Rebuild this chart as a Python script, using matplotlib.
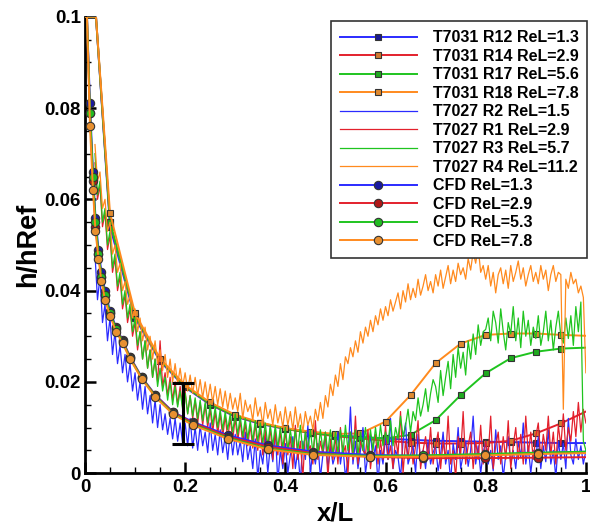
import numpy as np
import matplotlib
matplotlib.use("Agg")
import matplotlib.pyplot as plt

plt.rcParams['font.family'] = ['Liberation Sans', 'DejaVu Sans']
plt.rcParams['font.weight'] = 'bold'

# ---------------- data ----------------
# CFD curves
cfd_x = [0.004, 0.010, 0.016, 0.021, 0.027, 0.033, 0.040, 0.050, 0.062, 0.075, 0.090,
         0.113, 0.140, 0.176, 0.216, 0.286, 0.365, 0.456, 0.569, 0.675, 0.798, 0.904, 1.0]
cfd_re13 = [0.100, 0.081, 0.066, 0.056, 0.049, 0.044, 0.040, 0.0355, 0.032, 0.0292, 0.0255,
            0.0211, 0.0172, 0.0134, 0.0112, 0.0083, 0.0061, 0.0047, 0.0040, 0.0038, 0.0040, 0.0044, 0.0047]
cfd_re29 = [0.100, 0.079, 0.064, 0.054, 0.048, 0.043, 0.039, 0.0350, 0.0318, 0.0290, 0.0254,
            0.0210, 0.0171, 0.0133, 0.0110, 0.0080, 0.0058, 0.0044, 0.0036, 0.0033, 0.0033, 0.0034, 0.0035]
cfd_re53 = [0.100, 0.079, 0.065, 0.055, 0.048, 0.043, 0.039, 0.0350, 0.0316, 0.0288, 0.0252,
            0.0209, 0.0169, 0.0131, 0.0107, 0.0077, 0.0054, 0.0042, 0.0038, 0.0039, 0.0042, 0.0045, 0.0047]
cfd_re78 = [0.100, 0.076, 0.062, 0.053, 0.047, 0.042, 0.038, 0.0345, 0.0310, 0.0285, 0.0250,
            0.0207, 0.0167, 0.0129, 0.0105, 0.0075, 0.0052, 0.0040, 0.0036, 0.0036, 0.0039, 0.0042, 0.0044]

# T7031 runs (smooth, square markers)
t31_x = [0.0, 0.022, 0.05, 0.10, 0.15, 0.20, 0.25, 0.30, 0.35, 0.40, 0.45,
         0.50, 0.55, 0.60, 0.65, 0.70, 0.75, 0.80, 0.85, 0.90, 0.95, 1.00]
t31_r12 = [0.1, 0.1, 0.054, 0.0340, 0.0245, 0.0188, 0.0150, 0.0124, 0.0108, 0.0097, 0.0089,
           0.0083, 0.0079, 0.0076, 0.0073, 0.0071, 0.0070, 0.0069, 0.0068, 0.0067, 0.0066, 0.0066]
t31_r14 = [0.1, 0.1, 0.055, 0.0345, 0.0248, 0.0190, 0.0151, 0.0125, 0.0109, 0.0097, 0.0088,
           0.0081, 0.0076, 0.0071, 0.0067, 0.0065, 0.0065, 0.0066, 0.0071, 0.0087, 0.0109, 0.0135]
t31_r17 = [0.1, 0.1, 0.055, 0.0345, 0.0248, 0.0190, 0.0152, 0.0126, 0.0110, 0.0098, 0.0089,
           0.0083, 0.0079, 0.0076, 0.0084, 0.0116, 0.0171, 0.0219, 0.0252, 0.0266, 0.0273, 0.0275]
t31_r18 = [0.1, 0.1, 0.057, 0.0350, 0.0251, 0.0193, 0.0155, 0.0128, 0.0111, 0.0099, 0.0091,
           0.0086, 0.0087, 0.0113, 0.0171, 0.0241, 0.0284, 0.0303, 0.0306, 0.0306, 0.0303, 0.0301]

# T7027 runs (noisy, sampled every 0.005 from x=0.02 to 1.0)
t27_x = np.round(np.linspace(0.02, 1.0, 197), 3)
t27_r2 = [
    0.048, 0.038, 0.043, 0.033, 0.037, 0.029, 0.034, 0.026, 0.031, 0.024, 0.028, 0.022, 0.026, 0.020, 0.024, 0.018,
    0.022, 0.016, 0.020, 0.014, 0.019, 0.013, 0.017, 0.011, 0.016, 0.010, 0.015, 0.0095, 0.013, 0.0085, 0.012, 0.0075, 0.012, 0.007, 0.011, 0.0065,
    0.011, 0.006, 0.012, 0.0055, 0.010, 0.005, 0.0105, 0.006, 0.009, 0.0045, 0.011, 0.005, 0.0085, 0.004, 0.0095, 0.0045, 0.008, 0.003, 0.009, 0.004,
    0.0085, 0.004, 0.007, 0.0025, 0.009, 0.003, 0.006, 0.001, 0.0075, -0.001, 0.005, 0.002, 0.008, 0.000, 0.006, 0.0025, 0.0095, -0.002, 0.005, 0.001,
    0.0065, 0.000, 0.004, 0.008, 0.001, 0.005, -0.002, 0.007, 0.003, 0.0105, 0.000, 0.005, 0.002, 0.0065, -0.001, 0.004, 0.0085, 0.001, 0.006, 0.002,
    0.004, 0.009, 0.002, 0.006, -0.001, 0.003, 0.0145, 0.002, 0.007, 0.001, 0.005, 0.010, 0.000, 0.004, 0.0085, 0.003, 0.006, -0.002, 0.005, 0.002,
    0.008, 0.003, 0.012, 0.001, 0.005, 0.0035, -0.001, 0.007, 0.011, 0.002, 0.004, 0.006, 0.000, 0.0085, 0.003, 0.005, 0.001, 0.007, 0.002, 0.0045,
    0.006, 0.0005, 0.004, 0.009, 0.002, 0.005, -0.002, 0.0065, 0.003, 0.010, 0.001, 0.004, 0.007, 0.0015, 0.005, 0.0125, 0.002, 0.006, 0.000, 0.0045,
    0.007, 0.002, 0.005, 0.0005, 0.0095, 0.003, 0.006, -0.001, 0.004, 0.008, 0.002, 0.005, 0.001, 0.007, 0.0035, 0.011, 0.002, 0.006, 0.000, 0.005,
    0.0035, 0.008, 0.001, 0.006, 0.0025, 0.0095, 0.002, 0.005, -0.001, 0.007, 0.003, 0.0065, 0.001, 0.012, 0.004, 0.002, 0.0075, 0.003, 0.006, 0.002, 0.005]
t27_r1 = [
    0.068, 0.060, 0.063, 0.054, 0.057, 0.049, 0.052, 0.044, 0.047, 0.040, 0.043, 0.036, 0.039, 0.033, 0.036, 0.030,
    0.033, 0.027, 0.031, 0.025, 0.029, 0.023, 0.027, 0.021, 0.025, 0.020, 0.029, 0.019, 0.022, 0.017, 0.021, 0.016, 0.020, 0.015, 0.019, 0.0145,
    0.018, 0.013, 0.017, 0.012, 0.016, 0.011, 0.0155, 0.0105, 0.015, 0.010, 0.014, 0.009, 0.0135, 0.0085, 0.013, 0.008, 0.0125, 0.0075, 0.012, 0.0075,
    0.012, 0.007, 0.0115, 0.0065, 0.011, 0.006, 0.0105, 0.0055, 0.011, 0.005, 0.010, 0.004, 0.0095, 0.0045, 0.010, 0.003, 0.009, 0.004, 0.0095, 0.002,
    0.0095, 0.004, 0.008, 0.001, 0.0105, 0.003, 0.007, -0.001, 0.009, 0.005, 0.006, 0.002, 0.0115, 0.003, 0.007, 0.004, 0.009, -0.001, 0.0075, 0.003,
    0.008, 0.002, 0.010, 0.004, 0.006, 0.000, 0.009, 0.003, 0.0125, 0.002, 0.007, 0.005, 0.004, 0.0095, 0.001, 0.006, 0.0085, 0.002, 0.007, 0.003,
    0.0105, 0.003, 0.006, 0.001, 0.008, 0.004, 0.0135, 0.000, 0.007, 0.003, 0.009, 0.002, 0.006, 0.0115, 0.001, 0.005, 0.008, 0.003, 0.010, 0.002,
    0.006, 0.009, 0.001, 0.007, 0.003, 0.0125, 0.002, 0.005, -0.001, 0.008, 0.004, 0.0135, 0.002, 0.006, 0.009, 0.001, 0.007, 0.003, 0.0105, 0.002,
    0.007, 0.004, 0.0125, 0.001, 0.006, 0.009, 0.002, 0.008, 0.003, 0.0115, 0.001, 0.006, 0.010, 0.003, 0.0085, 0.002, 0.0125, 0.004, 0.009, 0.003,
    0.008, 0.011, 0.003, 0.0085, 0.005, 0.0125, 0.004, 0.009, 0.002, 0.0105, 0.006, 0.013, 0.005, 0.010, 0.007, 0.0135, 0.008, 0.0155, 0.009, 0.014, 0.011]
t27_r3 = [
    0.070, 0.061, 0.064, 0.055, 0.058, 0.050, 0.053, 0.045, 0.048, 0.041, 0.044, 0.037, 0.040, 0.034, 0.037, 0.031,
    0.034, 0.028, 0.031, 0.025, 0.029, 0.023, 0.027, 0.021, 0.025, 0.019, 0.023, 0.018, 0.021, 0.016, 0.020, 0.015, 0.019, 0.0145, 0.018, 0.014,
    0.0175, 0.013, 0.017, 0.0125, 0.0165, 0.012, 0.016, 0.0115, 0.0155, 0.011, 0.015, 0.0105, 0.0145, 0.010, 0.014, 0.0095, 0.0135, 0.0095, 0.013, 0.009,
    0.013, 0.0085, 0.0125, 0.008, 0.012, 0.0075, 0.0115, 0.007, 0.0115, 0.007, 0.011, 0.0065, 0.011, 0.006, 0.0105, 0.006, 0.0105, 0.0055, 0.010, 0.0055,
    0.010, 0.005, 0.0095, 0.0055, 0.0095, 0.005, 0.0105, 0.0045, 0.009, 0.005, 0.0095, 0.0045, 0.009, 0.004, 0.0095, 0.005, 0.009, 0.0045, 0.0095, 0.004,
    0.009, 0.0045, 0.0095, 0.004, 0.0105, 0.005, 0.009, 0.0045, 0.0095, 0.004, 0.009, 0.005, 0.010, 0.0045, 0.0095, 0.005, 0.010, 0.0055, 0.0105, 0.006,
    0.009, 0.0065, 0.0115, 0.006, 0.010, 0.0075, 0.0125, 0.008, 0.0105, 0.014, 0.009, 0.0135, 0.0115, 0.0165, 0.0125, 0.015, 0.0185, 0.0135, 0.0175, 0.0205,
    0.019, 0.0155, 0.0225, 0.017, 0.021, 0.0245, 0.0185, 0.026, 0.021, 0.0275, 0.023, 0.0265, 0.0215, 0.029, 0.025, 0.0305, 0.026, 0.0325, 0.028, 0.031,
    0.0315, 0.034, 0.029, 0.0355, 0.033, 0.0285, 0.036, 0.031, 0.027, 0.033, 0.0305, 0.0365, 0.029, 0.034, 0.0275, 0.0355, 0.030, 0.0335, 0.028, 0.032,
    0.0295, 0.0345, 0.028, 0.031, 0.0355, 0.029, 0.0335, 0.027, 0.032, 0.0355, 0.030, 0.0285, 0.034, 0.0295, 0.0345, 0.028, 0.0365, 0.031, 0.0375, 0.007, 0.005]
t27_r4 = [
    0.072, 0.064, 0.066, 0.058, 0.060, 0.053, 0.055, 0.048, 0.050, 0.044, 0.046, 0.040, 0.042, 0.037, 0.039, 0.034,
    0.036, 0.031, 0.034, 0.029, 0.032, 0.027, 0.030, 0.025, 0.029, 0.024, 0.027, 0.0225, 0.026, 0.021, 0.025, 0.020, 0.024, 0.0195, 0.023, 0.019,
    0.022, 0.018, 0.0215, 0.0175, 0.021, 0.017, 0.0205, 0.0165, 0.020, 0.016, 0.0195, 0.0155, 0.019, 0.015, 0.0185, 0.0145, 0.018, 0.014, 0.0175, 0.014,
    0.0165, 0.0135, 0.0175, 0.012, 0.016, 0.0135, 0.015, 0.0115, 0.0165, 0.0125, 0.0145, 0.0105, 0.0155, 0.012, 0.014, 0.0105, 0.015, 0.011, 0.0135, 0.010,
    0.0145, 0.0105, 0.0135, 0.0095, 0.0145, 0.010, 0.013, 0.009, 0.0135, 0.0105, 0.0125, 0.0095, 0.014, 0.0115, 0.0155, 0.012, 0.017, 0.0145, 0.0195, 0.017,
    0.0215, 0.019, 0.024, 0.0205, 0.0255, 0.024, 0.0275, 0.0255, 0.029, 0.0265, 0.031, 0.0285, 0.032, 0.030, 0.0335, 0.031, 0.0345, 0.0325, 0.036, 0.0335,
    0.0365, 0.0345, 0.038, 0.0355, 0.0375, 0.0395, 0.036, 0.040, 0.0375, 0.0415, 0.038, 0.0405, 0.0385, 0.0425, 0.039, 0.041, 0.0435, 0.040, 0.042, 0.0395,
    0.0435, 0.041, 0.0445, 0.0405, 0.043, 0.0455, 0.0415, 0.0445, 0.042, 0.046, 0.0435, 0.045, 0.0425, 0.047, 0.0445, 0.0485, 0.046, 0.0495, 0.044, 0.0455,
    0.0425, 0.0455, 0.041, 0.044, 0.0395, 0.0435, 0.045, 0.0415, 0.0445, 0.0405, 0.0455, 0.042, 0.044, 0.0465, 0.0425, 0.045, 0.041, 0.0435, 0.0455, 0.042,
    0.044, 0.0415, 0.0455, 0.0425, 0.0445, 0.040, 0.0435, 0.0455, 0.042, 0.044, 0.0435, 0.014, 0.0425, 0.0405, 0.044, 0.0415, 0.0425, 0.0395, 0.041, 0.0385, 0.022]

# error bar
err_x = [0.195]
err_y = [0.0131]
err_half = [0.0066]

xticks = [0, 0.2, 0.4, 0.6, 0.8, 1.0]
xticklabels = ['0', '0.2', '0.4', '0.6', '0.8', '1']
yticks = [0, 0.02, 0.04, 0.06, 0.08, 0.1]
yticklabels = ['0', '0.02', '0.04', '0.06', '0.08', '0.1']

# ---------------- style ----------------
BLUE = '#2b2bff'
RED = '#e3202c'
GREEN = '#1fc41f'
ORANGE = '#ff8a1e'

fig = plt.figure(figsize=(5.90, 5.24), dpi=100)
ax = fig.add_axes([0.144, 0.097, 0.849, 0.871])

sq = dict(marker='s', markersize=4.5, markeredgecolor='#333333', markeredgewidth=0.8)
t31 = [(t31_r12, BLUE, '#1a1a90', 'T7031 R12 ReL=1.3'),
       (t31_r14, RED, '#d07a30', 'T7031 R14 ReL=2.9'),
       (t31_r17, GREEN, '#1faa1f', 'T7031 R17 ReL=5.6'),
       (t31_r18, ORANGE, '#e08a30', 'T7031 R18 ReL=7.8')]
for y, c, fc, lab in t31:
    ax.plot(t31_x, y, color=c, lw=1.4, markerfacecolor=fc, markevery=list(range(2, 21)),
            label=lab, zorder=3, **sq)

t27 = [(t27_r2, BLUE, 'T7027 R2 ReL=1.5'),
       (t27_r1, RED, 'T7027 R1 ReL=2.9'),
       (t27_r3, GREEN, 'T7027 R3 ReL=5.7'),
       (t27_r4, ORANGE, 'T7027 R4 ReL=11.2')]
for y, c, lab in t27:
    ax.plot(t27_x, y, color=c, lw=0.9, label=lab, zorder=4)

ci = dict(marker='o', markersize=6, markeredgecolor='#333333', markeredgewidth=0.8)
cfd = [(cfd_re13, BLUE, '#1a1aa0', 'CFD ReL=1.3'),
       (cfd_re29, RED, '#b01818', 'CFD ReL=2.9'),
       (cfd_re53, GREEN, '#22bb22', 'CFD ReL=5.3'),
       (cfd_re78, ORANGE, '#e89030', 'CFD ReL=7.8')]
for y, c, fc, lab in cfd:
    ax.plot(cfd_x, y, color=c, lw=1.4, markerfacecolor=fc, markevery=list(range(1, 22)),
            label=lab, zorder=5, **ci)

ax.errorbar(err_x, err_y, yerr=err_half, fmt='none', ecolor='black', elinewidth=2.2,
            capsize=8, capthick=2.2, zorder=6)

ax.set_xlim(0, 1)
ax.set_ylim(0, 0.1)
ax.set_xticks(xticks)
ax.set_xticklabels(xticklabels)
ax.set_yticks(yticks)
ax.set_yticklabels(yticklabels)
ax.set_xticks(np.round(np.arange(0, 1.0001, 0.05), 3), minor=True)
ax.set_yticks(np.round(np.arange(0, 0.10001, 0.005), 4), minor=True)

for s in ['top', 'right']:
    ax.spines[s].set_visible(False)
for s in ['left', 'bottom']:
    ax.spines[s].set_linewidth(2)

ax.tick_params(which='major', direction='in', length=8, width=1.8, labelsize=13.5, pad=4)
ax.tick_params(which='minor', direction='in', length=4, width=1.0)
ax.tick_params(axis='y', which='major', pad=3)
for t in ax.get_xticklabels() + ax.get_yticklabels():
    t.set_fontweight('bold')

ax.set_xlabel('x/L', fontsize=18.5, fontweight='bold', labelpad=4)
ax.set_ylabel('h/hRef', fontsize=19.5, fontweight='bold', labelpad=2)

leg = ax.legend(loc='upper right', bbox_to_anchor=(1.003, 0.99),
                prop={'weight': 'bold', 'size': 11.5}, frameon=True, fancybox=False,
                edgecolor='#333333', framealpha=1, handlelength=4.8, labelspacing=0.22,
                borderpad=0.55, handletextpad=1.0, borderaxespad=0)
leg.get_frame().set_linewidth(1.2)
leg.set_zorder(10)

fig.savefig('out.png', dpi=100)
